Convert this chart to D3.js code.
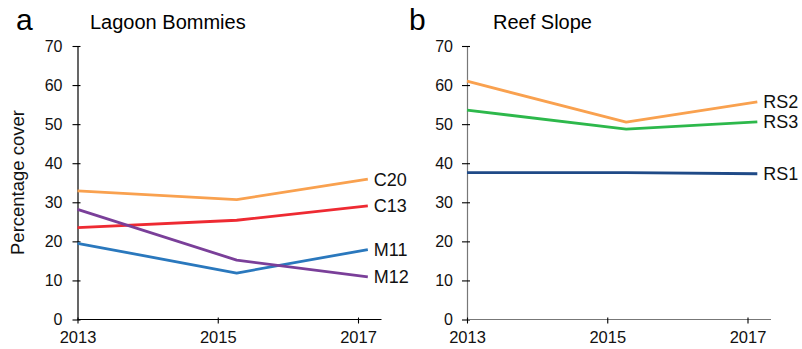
<!DOCTYPE html>
<html>
<head>
<meta charset="utf-8">
<script src="https://cdn.jsdelivr.net/npm/d3@7"></script>
<style>
  html, body { margin: 0; padding: 0; background: #fff; }
  svg { display: block; font-family: "Liberation Sans", Arial, sans-serif; }
</style>
</head>
<body>
<svg id="chart" width="802" height="349"></svg>
<script>
// Survey times (decimal years) and tick years
const surveyYears = [2013.0, 2015.27, 2017.14];
const yearTicks = [2013, 2015, 2017];
const coverTicks = [0, 10, 20, 30, 40, 50, 60, 70];

// Lagoon bommie sites (percentage cover)
const lagoonSites = ["C20", "C13", "M11", "M12"];
const C20 = [32.9, 30.7, 35.9];
const C13 = [23.5, 25.4, 29.1];
const M11 = [19.5, 11.9, 17.9];
const M12 = [28.2, 15.2, 10.9];
const lagoonColors = ["#f9a14f", "#ee2a32", "#2a78bd", "#7a3f99"];

// Reef slope sites (percentage cover)
const slopeSites = ["RS2", "RS3", "RS1"];
const RS2 = [61.0, 50.5, 55.7];
const RS3 = [53.6, 48.7, 50.6];
const RS1 = [37.6, 37.6, 37.3];
const slopeColors = ["#f9a14f", "#2db84b", "#1f4a87"];

const FONT = "Liberation Sans, Arial, sans-serif";
const svg = d3.select("#chart");

function panel(opts) {
  const g = svg.append("g");
  const x = d3.scaleLinear().domain([2013, 2017]).range([opts.x0, opts.x0 + 280.5]);
  const y = d3.scaleLinear().domain([0, 70]).range([319.5, 46]);

  // panel letter and title
  g.append("text").attr("x", opts.letterX).attr("y", 29.5)
    .attr("font-size", 30).attr("fill", "#000").text(opts.letter);
  g.append("text").attr("x", opts.titleX).attr("y", 28.5)
    .attr("font-size", 20).attr("fill", "#000").text(opts.title);

  // y axis
  const yAxis = g.append("g").attr("transform", `translate(${opts.x0},0)`)
    .call(d3.axisLeft(y).tickValues(coverTicks).tickSize(0).tickPadding(opts.yPad));
  yAxis.select(".domain").attr("stroke", opts.axisColor).attr("stroke-width", 1.2);
  yAxis.selectAll(".tick").append("line")
    .attr("x1", -5).attr("x2", 3).attr("stroke", "#000").attr("stroke-width", 1.1);
  yAxis.selectAll(".tick text").attr("font-size", 16).attr("fill", "#111")
    .attr("font-family", FONT);

  // x axis
  const xAxis = g.append("g").attr("transform", `translate(0,${y(0)})`)
    .call(d3.axisBottom(x).tickValues(yearTicks).tickFormat(d3.format("d"))
      .tickSize(0).tickPadding(12));
  xAxis.select(".domain").attr("d", `M${opts.x0},0H${opts.x0 + 304}`)
    .attr("stroke", opts.axisColor).attr("stroke-width", 1.2);
  xAxis.selectAll(".tick").append("line")
    .attr("y1", -2).attr("y2", 4).attr("stroke", "#000").attr("stroke-width", 1.1);
  xAxis.selectAll(".tick text").attr("font-size", 16.5).attr("fill", "#111")
    .attr("font-family", FONT);

  // series lines with end labels
  const line = d3.line().x((d, i) => x(surveyYears[i])).y(d => y(d));
  opts.series.forEach((vals, k) => {
    g.append("path").datum(vals).attr("d", line)
      .attr("fill", "none").attr("stroke", opts.colors[k])
      .attr("stroke-width", 2.8).attr("stroke-linejoin", "round");
    g.append("text")
      .attr("x", x(surveyYears[2]) + 6).attr("y", y(vals[2]))
      .attr("dy", "0.36em").attr("font-size", 18).attr("fill", "#111")
      .text(opts.names[k]);
  });
}

panel({
  x0: 77.5, letter: "a", letterX: 16, title: "Lagoon Bommies", titleX: 90, yPad: 15,
  axisColor: "#000", series: [C20, C13, M11, M12], names: lagoonSites, colors: lagoonColors
});
panel({
  x0: 467, letter: "b", letterX: 409, title: "Reef Slope", titleX: 493, yPad: 14,
  axisColor: "#777", series: [RS2, RS3, RS1], names: slopeSites, colors: slopeColors
});

// y-axis title
svg.append("text")
  .attr("transform", "translate(24,182.5) rotate(-90)")
  .attr("text-anchor", "middle").attr("font-size", 18.5).attr("fill", "#111")
  .text("Percentage cover");
</script>
</body>
</html>
